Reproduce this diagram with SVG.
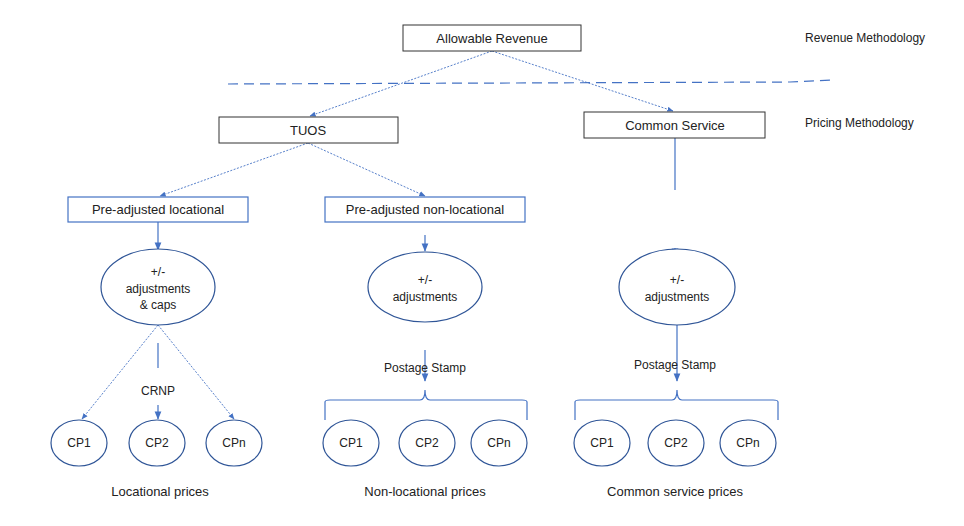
<svg xmlns="http://www.w3.org/2000/svg" width="964" height="526" viewBox="0 0 964 526">
<style>
text{font-family:"Liberation Sans",Arial,sans-serif;font-size:12px;fill:#222;text-anchor:middle}
.t{font-size:13px}
.l{text-anchor:start}
.bx{fill:#fff;stroke:#333;stroke-width:1}
.bb{fill:#fff;stroke:#4472c4;stroke-width:1.2}
.el{fill:#fff;stroke:#2f5597;stroke-width:1.2}
.ln{stroke:#4472c4;stroke-width:1.2;fill:none}
.dt{stroke:#4472c4;stroke-width:0.9;fill:none;stroke-dasharray:2 1.5}
</style>
<defs><marker id="a" viewBox="0 0 10 10" refX="9" refY="5" markerWidth="7" markerHeight="7" orient="auto"><path d="M0,1 L10,5 L0,9 z" fill="#4472c4"/></marker></defs>
<rect width="964" height="526" fill="#fff"/>
<text x="805" y="42" class="l">Revenue Methodology</text>
<text x="805" y="127" class="l">Pricing Methodology</text>
<g id="connectors">
<path class="ln" d="M228,84 L790,82 L832,80" stroke-dasharray="10 6" stroke-width="1.6"/>
<path class="dt" d="M492,51 L310,116" marker-end="url(#a)"/>
<path class="dt" d="M492,51 L673,111" marker-end="url(#a)"/>
<path class="dt" d="M308,143 L160,196" marker-end="url(#a)"/>
<path class="dt" d="M308,143 L425,196" marker-end="url(#a)"/>
<path class="ln" d="M158,222 L158,250" marker-end="url(#a)"/>
<path class="dt" d="M158,325 L82,419" marker-end="url(#a)"/>
<path class="dt" d="M158,325 L234,419" marker-end="url(#a)"/>
<path class="ln" d="M158,343 L158,368"/>
<path class="ln" d="M158,405 L158,419" marker-end="url(#a)"/>
<path class="ln" d="M425,235 L425,251" marker-end="url(#a)"/>
<path class="ln" d="M425,350 L425,381" marker-end="url(#a)"/>
<path class="ln" d="M325,420 L325,402 Q325,400 330,400 L420,400 Q425,400 425,390 Q425,400 430,400 L522,400 Q527,400 527,402 L527,420"/>
<path class="ln" d="M675,138 L675,190"/>
<path class="ln" d="M675,248 L675,256" marker-end="url(#a)"/>
<path class="ln" d="M677,325 L677,381" marker-end="url(#a)"/>
<path class="ln" d="M575,420 L575,402 Q575,400 580,400 L672,400 Q677,400 677,390 Q677,400 682,400 L773,400 Q778,400 778,402 L778,420"/>
</g>
<g id="allowable"><rect class="bx" x="403" y="25" width="178" height="26"/><text class="t" x="492" y="43">Allowable Revenue</text></g>
<g id="tuos"><rect class="bx" x="219" y="117" width="179" height="26"/><text class="t" x="308" y="135">TUOS</text></g>
<g id="common"><rect class="bx" x="584" y="112" width="181" height="26"/><text class="t" x="675" y="130">Common Service</text></g>
<g id="preloc"><rect class="bb" x="68" y="197" width="180" height="25"/><text class="t" x="158" y="214">Pre-adjusted locational</text></g>
<g id="prenonloc"><rect class="bb" x="325" y="197" width="200" height="25"/><text class="t" x="425" y="214">Pre-adjusted non-locational</text></g>
<g id="adj1"><ellipse class="el" cx="158" cy="287" rx="57" ry="38"/><text x="158" y="276">+/-</text><text x="158" y="293">adjustments</text><text x="158" y="309">&amp; caps</text></g>
<g id="adj2"><ellipse class="el" cx="425" cy="287" rx="57" ry="35"/><text x="425" y="284">+/-</text><text x="425" y="301">adjustments</text></g>
<g id="adj3"><ellipse class="el" cx="677" cy="287" rx="58" ry="38"/><text x="677" y="284">+/-</text><text x="677" y="301">adjustments</text></g>
<text x="158" y="395">CRNP</text>
<text x="425" y="372" font-size="11">Postage Stamp</text>
<text x="675" y="369" font-size="11">Postage Stamp</text>
<g id="l1"><ellipse class="el" cx="79" cy="443" rx="28" ry="23"/><text x="79" y="447">CP1</text></g>
<g id="l2"><ellipse class="el" cx="157" cy="443" rx="28" ry="23"/><text x="157" y="447">CP2</text></g>
<g id="l3"><ellipse class="el" cx="234" cy="443" rx="28" ry="23"/><text x="234" y="447">CPn</text></g>
<g id="n1"><ellipse class="el" cx="351" cy="443" rx="28" ry="23"/><text x="351" y="447">CP1</text></g>
<g id="n2"><ellipse class="el" cx="427" cy="443" rx="28" ry="23"/><text x="427" y="447">CP2</text></g>
<g id="n3"><ellipse class="el" cx="499" cy="443" rx="28" ry="23"/><text x="499" y="447">CPn</text></g>
<g id="c1"><ellipse class="el" cx="602" cy="443" rx="28" ry="23"/><text x="602" y="447">CP1</text></g>
<g id="c2"><ellipse class="el" cx="676" cy="443" rx="28" ry="23"/><text x="676" y="447">CP2</text></g>
<g id="c3"><ellipse class="el" cx="748" cy="443" rx="28" ry="23"/><text x="748" y="447">CPn</text></g>
<text class="t" x="160" y="496">Locational prices</text>
<text class="t" x="425" y="496">Non-locational prices</text>
<text class="t" x="675" y="496">Common service prices</text>
</svg>
